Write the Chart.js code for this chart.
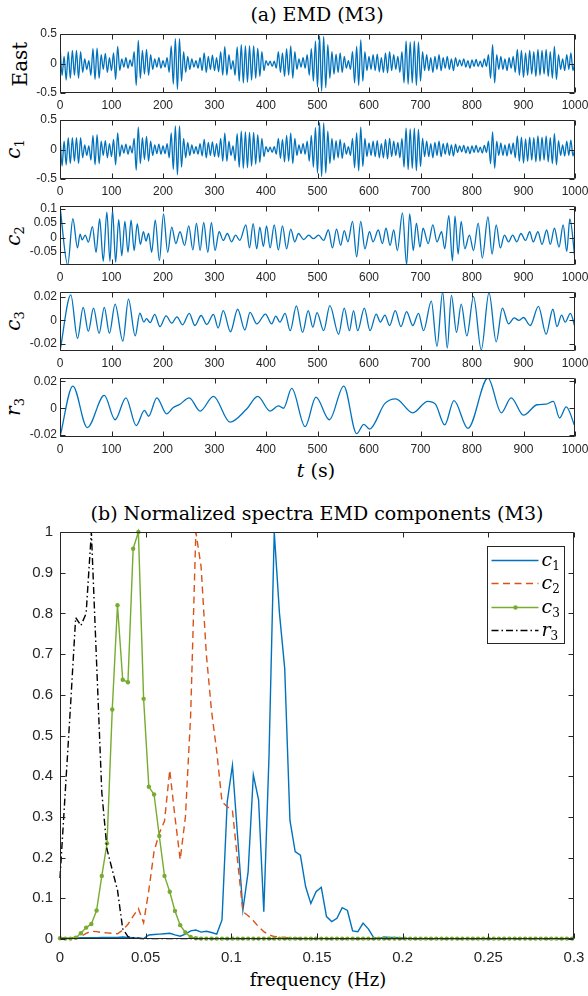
<!DOCTYPE html>
<html>
<head>
<meta charset="utf-8">
<title>EMD (M3)</title>
<script src="https://cdn.jsdelivr.net/npm/chart.js@4.4.1/dist/chart.umd.min.js"></script>
<style>
  html, body { margin: 0; padding: 0; background: #fff; }
  #page { position: relative; width: 588px; height: 996px; overflow: hidden; font-family: "DejaVu Serif", serif; color: #000; }
  canvas { position: absolute; left: 0; }
  .txt { position: absolute; white-space: nowrap; line-height: 1; transform: translate(-50%, -50%); font-size: 19px; }
  .ylab { position: absolute; white-space: nowrap; line-height: 1; transform: translate(-50%, -50%) rotate(-90deg); font-size: 20px; }
  .ylab sub { font-size: 13px; vertical-align: -4px; font-style: normal; }
</style>
</head>
<body>
<div id="page">
  <div class="txt" style="left:317px;top:14px">(a) EMD (M3)</div>
  <div class="ylab" style="left:20px;top:64px">East</div>
  <div class="ylab" style="left:14px;top:149px"><i>c</i><sub>1</sub></div>
  <div class="ylab" style="left:14px;top:236px"><i>c</i><sub>2</sub></div>
  <div class="ylab" style="left:14px;top:321px"><i>c</i><sub>3</sub></div>
  <div class="ylab" style="left:14px;top:407px"><i>r</i><sub>3</sub></div>
  <div class="txt" style="left:316px;top:470px"><i>t</i> (s)</div>
  <div class="txt" style="left:317px;top:513px">(b) Normalized spectra EMD components (M3)</div>
  <div class="txt" style="left:318px;top:980px;font-size:18px">frequency (Hz)</div>

  <canvas id="pEast" width="588" height="93"></canvas>
  <canvas id="pC1" width="588" height="93"></canvas>
  <canvas id="pC2" width="588" height="93"></canvas>
  <canvas id="pC3" width="588" height="93"></canvas>
  <canvas id="pR3" width="588" height="93"></canvas>
  <canvas id="pSpec" width="588" height="450" style="top:522px"></canvas>
</div>

<script>
// ---- (a) time series, East and c1 read every 4 s
const eastV = [
  0.32,-0.2,0.12,-0.28,0.2,-0.25,0.22,-0.2,0.22,-0.25,
  0.2,-0.15,0.08,-0.1,0.05,-0.2,0.25,-0.27,0.26,-0.25,
  0.15,-0.1,0.17,-0.15,0.1,-0.12,0.18,-0.27,0.29,-0.12,
  0.08,-0.06,0.1,-0.08,0.06,-0.05,0.2,-0.37,0.39,-0.25,
  0.22,-0.18,0.24,-0.2,0.15,-0.1,0.08,-0.06,0.1,-0.08,
  0.05,-0.06,0.1,-0.15,0.3,-0.35,0.42,-0.44,0.42,-0.3,
  0.2,-0.15,0.12,-0.1,0.08,-0.06,0.05,-0.08,0.1,-0.12,
  0.18,-0.15,0.12,-0.1,0.14,-0.12,0.1,-0.14,0.2,-0.2,
  0.29,-0.2,0.15,-0.1,0.05,-0.2,0.28,-0.3,0.32,-0.33,
  0.3,-0.32,0.3,-0.28,0.3,-0.25,0.26,-0.22,0.2,-0.12,
  0.05,-0.03,0.04,-0.05,0.04,-0.08,0.2,-0.15,0.18,-0.22,
  0.25,-0.2,0.3,-0.25,0.2,-0.1,0.08,-0.06,0.1,-0.08,
  0.15,-0.2,0.25,-0.3,0.38,-0.4,0.47,-0.47,0.46,-0.41,
  0.32,-0.25,0.2,-0.18,0.16,-0.15,0.18,-0.15,0.12,-0.08,
  0.05,-0.1,0.2,-0.33,0.29,-0.37,0.4,-0.3,0.2,-0.12,
  0.12,-0.1,0.15,-0.12,0.16,-0.14,0.1,-0.15,0.18,-0.16,
  0.2,-0.12,0.15,-0.1,0.12,-0.15,0.2,-0.33,0.38,-0.35,
  0.36,-0.33,0.38,-0.37,0.36,-0.3,0.2,-0.12,0.15,-0.12,
  0.1,-0.15,0.12,-0.1,0.15,-0.12,0.1,-0.08,0.12,-0.1,
  0.08,-0.12,0.1,-0.05,0.06,-0.04,0.08,-0.06,0.05,-0.08,
  0.06,-0.05,0.07,-0.05,0.04,-0.06,0.08,-0.05,0.15,-0.25,
  0.32,-0.33,0.15,-0.1,0.12,-0.1,0.08,-0.12,0.1,-0.08,
  0.12,-0.15,0.24,-0.2,0.22,-0.24,0.18,-0.2,0.22,-0.18,
  0.2,-0.22,0.24,-0.2,0.22,-0.18,0.24,-0.22,0.2,-0.25,
  0.29,-0.27,0.15,-0.1,0.08,-0.12,0.15,-0.1,0.18,-0.12,
  0.05
];
const c1V = [
  0.25,-0.28,0.14,-0.26,0.2,-0.24,0.2,-0.2,0.2,-0.24,
  0.2,-0.14,0.08,-0.1,0.06,-0.18,0.24,-0.26,0.25,-0.24,
  0.14,-0.1,0.15,-0.14,0.1,-0.12,0.17,-0.26,0.28,-0.12,
  0.08,-0.06,0.09,-0.08,0.06,-0.06,0.19,-0.35,0.38,-0.24,
  0.2,-0.17,0.22,-0.2,0.14,-0.1,0.08,-0.07,0.09,-0.08,
  0.06,-0.07,0.1,-0.14,0.28,-0.34,0.4,-0.43,0.4,-0.3,
  0.19,-0.14,0.12,-0.1,0.08,-0.07,0.05,-0.08,0.1,-0.11,
  0.17,-0.14,0.12,-0.1,0.13,-0.12,0.1,-0.13,0.19,-0.2,
  0.28,-0.2,0.14,-0.1,0.06,-0.19,0.27,-0.3,0.31,-0.32,
  0.3,-0.31,0.29,-0.28,0.29,-0.25,0.25,-0.22,0.19,-0.12,
  0.05,-0.04,0.04,-0.05,0.05,-0.08,0.19,-0.15,0.17,-0.21,
  0.24,-0.2,0.28,-0.24,0.19,-0.1,0.08,-0.07,0.1,-0.08,
  0.14,-0.2,0.24,-0.3,0.37,-0.4,0.46,-0.46,0.45,-0.4,
  0.31,-0.24,0.19,-0.18,0.15,-0.14,0.17,-0.15,0.11,-0.08,
  0.05,-0.1,0.19,-0.31,0.28,-0.36,0.38,-0.29,0.19,-0.12,
  0.11,-0.1,0.14,-0.12,0.15,-0.14,0.1,-0.14,0.17,-0.16,
  0.19,-0.12,0.14,-0.1,0.12,-0.14,0.19,-0.3,0.36,-0.34,
  0.35,-0.32,0.36,-0.36,0.34,-0.29,0.19,-0.12,0.14,-0.12,
  0.1,-0.14,0.12,-0.1,0.14,-0.12,0.1,-0.08,0.11,-0.1,
  0.08,-0.11,0.09,-0.05,0.06,-0.04,0.07,-0.06,0.05,-0.07,
  0.06,-0.05,0.07,-0.05,0.04,-0.06,0.07,-0.05,0.14,-0.24,
  0.3,-0.32,0.14,-0.1,0.11,-0.1,0.08,-0.11,0.1,-0.08,
  0.11,-0.14,0.23,-0.2,0.21,-0.23,0.18,-0.2,0.21,-0.18,
  0.2,-0.21,0.23,-0.2,0.21,-0.18,0.23,-0.21,0.2,-0.24,
  0.27,-0.26,0.15,-0.1,0.08,-0.11,0.14,-0.1,0.16,-0.11,
  0.04
];
const tGrid = eastV.map((_, i) => i * 4);

// c2, c3, r3: extremes (time s, value)
const c2T = [0,15,25,34,39,43,49,55,63,70,77,84,91,97,102,108,114,120,126,132,
  138,144,150,156,162,167,172,178,185,193,201,209,217,225,233,242,250,258,265,272,
  279,287,294,301,309,317,325,333,341,349,361,368,375,382,388,395,401,408,416,424,
  432,440,448,456,463,473,483,492,502,512,521,529,537,545,552,559,568,576,584,592,
  601,608,618,626,633,641,648,655,665,673,679,686,692,699,705,715,724,732,741,747,
  755,762,767,773,779,786,795,803,812,820,831,839,847,855,863,871,879,887,895,904,
  912,919,928,936,945,952,960,969,977,984,990,1000];
const c2V = [0.107,-0.095,0.065,-0.036,0.012,-0.008,0.008,-0.016,0.038,-0.051,
  0.064,-0.082,0.088,-0.082,0.095,-0.085,0.062,-0.063,0.056,-0.051,
  0.06,-0.045,0.048,-0.024,0.02,-0.012,0.014,-0.051,0.06,-0.079,
  0.082,-0.051,0.036,-0.021,0.02,-0.027,0.04,-0.043,0.05,-0.045,
  0.052,-0.051,0.052,-0.045,0.02,-0.01,0.014,-0.015,0.008,-0.01,
  0.044,-0.036,0.048,-0.039,0.036,-0.031,0.04,-0.036,0.044,-0.043,
  0.04,-0.039,0.029,-0.015,0.014,-0.007,0.008,-0.004,0.008,-0.01,
  0.026,-0.036,0.029,-0.027,0.024,-0.015,0.056,-0.067,0.056,-0.039,
  0.02,-0.015,0.026,-0.021,0.032,-0.027,0.026,-0.045,0.085,-0.093,
  0.082,-0.045,0.05,-0.033,0.032,-0.021,0.044,-0.015,0.02,-0.039,
  0.076,-0.081,0.074,-0.057,0.056,-0.039,0.008,-0.045,0.05,-0.071,
  0.071,-0.057,0.044,-0.036,0.008,-0.015,0.008,-0.015,0.014,-0.01,
  0.02,-0.015,0.02,-0.024,0.026,-0.024,0.032,-0.033,0.044,-0.048,
  0.064,-0.075];

const c3T = [0,21,34,45,55,65,76,86,96,107,122,133,146,155,163,168,175,184,194,206,
  217,227,238,251,262,274,285,298,307,317,331,345,359,369,382,399,411,419,427,437,
  447,459,471,482,491,499,512,524,541,552,562,570,578,591,602,614,622,631,640,651,
  662,673,685,696,706,721,732,743,752,760,770,779,790,803,818,833,847,859,871,882,
  891,900,913,929,944,957,965,974,981,991,1000];
const c3V = [-0.026,0.0215,-0.0153,0.011,-0.0094,0.0103,-0.011,0.011,-0.011,0.0138,
  -0.0176,0.018,-0.0132,0.006,-0.0015,0.0015,-0.002,0.005,-0.0053,0.0038,
  -0.0024,0.003,-0.0038,0.0059,-0.0044,0.0041,-0.0035,0.005,-0.0065,0.0082,
  -0.0097,0.0094,-0.0082,0.0068,-0.003,0.0053,-0.003,0.0035,-0.0015,0.0059,
  -0.0088,0.0122,-0.0103,0.0082,-0.0059,0.0065,-0.0088,0.0124,-0.0118,0.0103,
  -0.0088,0.0082,-0.0088,0.0103,-0.0088,0.0053,-0.0015,0.0044,-0.0044,0.0082,
  -0.0053,0.0074,-0.0044,0.0059,-0.0088,0.0162,-0.022,0.024,-0.0235,0.0212,
  -0.0103,0.0138,-0.0132,0.02,-0.025,0.0235,-0.0182,0.0103,-0.003,0.002,
  0,0.0024,-0.0044,0.0118,-0.0118,0.0094,-0.0053,0.0044,-0.0015,0.0059,
  -0.0059];

const r3T = [0,25,53,86,107,128,148,164,172,188,207,220,233,251,272,298,330,362,384,408,
  424,434,450,476,497,523,551,576,590,601,631,652,685,714,729,747,765,792,831,857,
  876,900,926,944,958,970,983,1000];
const r3V = [-0.0215,0.0166,-0.0145,0.0096,-0.0086,0.0078,-0.013,-0.0016,-0.006,0.0078,
  -0.0042,0.0005,0.003,0.0078,-0.0021,0.0088,-0.0104,-0.0008,0.0088,-0.0021,
  0.0018,0,0.0148,-0.0138,0.0083,-0.0086,0.0166,-0.019,-0.012,-0.0156,
  0.0036,0.007,-0.0034,0.0052,0.0031,-0.0125,0.0057,-0.0151,0.0226,-0.0034,
  0.0078,-0.0052,0.0026,0.0031,0.0052,-0.0073,0.001,-0.0138];

const ticksPM05 = [-0.5, 0, 0.5];
const ticksC2 = [-0.05, 0, 0.05, 0.1];
const ticksPM002 = [-0.02, 0, 0.02];

// ---- (b) normalized spectra, one value per frequency bin
const specC1 = [
  0.002,0.002,0.002,0.002,0.003,0.003,0.003,0.003,0.004,0.004,
  0.004,0.004,0.005,0.004,0.003,0.002,0.001,0.01,0.011,0.012,
  0.013,0.014,0.01,0.007,0.012,0.02,0.022,0.017,0.019,0.016,
  0.012,0.047,0.337,0.427,0.25,0.071,0.165,0.403,0.342,0.067,
  0.45,1,0.8,0.665,0.292,0.215,0.206,0.129,0.087,0.116,
  0.127,0.055,0.043,0.051,0.077,0.07,0.02,0.018,0.039,0.025,
  0.004,0.001,0.005,0.004,0.004,0.003,0.002,0.001,0.001,0.001,
  0.001,0.001,0.001,0.001,0.001,0.001,0.001,0.001,0.001,0.001,
  0.001,0.001,0.001,0.001,0.001,0.001,0.001,0.001,0.001,0.001,
  0.001,0.001,0.001,0.001,0.001,0.001,0.001,0.001,0.001
];
const specC2 = [
  0.002,0.002,0.003,0.004,0.006,0.014,0.019,0.018,0.016,0.015,
  0.014,0.013,0.022,0.036,0.056,0.075,0.04,0.12,0.215,0.26,
  0.29,0.415,0.3,0.195,0.3,0.55,1,0.915,0.7,0.56,
  0.46,0.337,0.325,0.316,0.19,0.067,0.057,0.045,0.03,0.018,
  0.01,0.006,0.005,0.004,0.003,0.002,0.002,0.001,0.001,0.001,
  0.001,0.001,0.001,0.001,0.001,0.001,0.001,0.001,0.001,0.001,
  0.001,0.001,0.001,0.001,0.001,0.001,0.001,0.001,0.001,0.001,
  0.001,0.001,0.001,0.001,0.001,0.001,0.001,0.001,0.001,0.001,
  0.001,0.001,0.001,0.001,0.001,0.001,0.001,0.001,0.001,0.001,
  0.001,0.001,0.001,0.001,0.001,0.001,0.001,0.001,0.001
];
const specC3 = [
  0.002,0.001,0.001,0.003,0.014,0.028,0.037,0.07,0.155,0.235,
  0.564,0.82,0.637,0.631,0.959,1,0.59,0.374,0.355,0.253,
  0.155,0.116,0.069,0.034,0.016,0.005,0.002,0.001,0.001,0.001,
  0.001,0.001,0.001,0.001,0.001,0.001,0.001,0.001,0.001,0.001,
  0.001,0.001,0.001,0.001,0.001,0.001,0.001,0.001,0.001,0.001,
  0.001,0.001,0.001,0.001,0.001,0.001,0.001,0.001,0.001,0.001,
  0.001,0.001,0.001,0.001,0.001,0.001,0.001,0.001,0.001,0.001,
  0.001,0.001,0.001,0.001,0.001,0.001,0.001,0.001,0.001,0.001,
  0.001,0.001,0.001,0.001,0.001,0.001,0.001,0.001,0.001,0.001,
  0.001,0.001,0.001,0.001,0.001,0.001,0.001,0.001,0.001
];
const specR3 = [
  0.15,0.36,0.57,0.79,0.77,0.8,1,0.68,0.36,0.22,
  0.17,0.12,0.025,0.006,0.003,0.002,0.001,0.001,0.001,0.001,
  0.001,0.001,0.001,0.001,0.001,0.001,0.001,0.001,0.001,0.001,
  0.001,0.001,0.001,0.001,0.001,0.001,0.001,0.001,0.001,0.001,
  0.001,0.001,0.001,0.001,0.001,0.001,0.001,0.001,0.001,0.001,
  0.001,0.001,0.001,0.001,0.001,0.001,0.001,0.001,0.001,0.001,
  0.001,0.001,0.001,0.001,0.001,0.001,0.001,0.001,0.001,0.001,
  0.001,0.001,0.001,0.001,0.001,0.001,0.001,0.001,0.001,0.001,
  0.001,0.001,0.001,0.001,0.001,0.001,0.001,0.001,0.001,0.001,
  0.001,0.001,0.001,0.001,0.001,0.001,0.001,0.001,0.001
];
const freqStep = 0.00305;   // bin width in Hz
const freq = specC1.map((_, i) => +(i * freqStep).toFixed(5));
const specNames = ['c', 'c', 'c', 'r'];
const specSubs = ['1', '2', '3', '3'];
const specYTicks = [0, 0.1, 0.2, 0.3, 0.4, 0.5, 0.6, 0.7, 0.8, 0.9, 1];
const specXTicks = [0, 0.05, 0.1, 0.15, 0.2, 0.25, 0.3];

const AX = '#262626';
const SANS = '"Liberation Sans", Arial, sans-serif';
const BLUE = '#0072BD', ORANGE = '#D95319', GREEN = '#77AC30';

const pts = (xs, ys) => ys.map((y, i) => ({ x: xs[i], y: y }));
const noGrid = { display: false, drawTicks: false };

// MATLAB style box with inward ticks on all four sides
const boxTicks = {
  id: 'boxTicks',
  afterDatasetsDraw(chart) {
    const { ctx, chartArea: a, scales: { x, y } } = chart;
    const L = Math.round(a.left) + 0.5, R = Math.round(a.right) - 0.5;
    const T = Math.round(a.top) + 0.5, B = Math.round(a.bottom) - 0.5;
    const len = 5;
    ctx.save();
    ctx.strokeStyle = AX;
    ctx.lineWidth = 1;
    ctx.beginPath();
    ctx.rect(L, T, R - L, B - T);
    x.ticks.forEach(t => {
      const px = Math.round(x.getPixelForValue(t.value)) + 0.5;
      ctx.moveTo(px, B); ctx.lineTo(px, B - len);
      ctx.moveTo(px, T); ctx.lineTo(px, T + len);
    });
    y.ticks.forEach(t => {
      const py = Math.round(y.getPixelForValue(t.value)) + 0.5;
      ctx.moveTo(L, py); ctx.lineTo(L + len, py);
      ctx.moveTo(R, py); ctx.lineTo(R - len, py);
    });
    ctx.stroke();
    ctx.restore();
  }
};

function timePanel(id, top, data, yMin, yMax, yTicks) {
  const cv = document.getElementById(id);
  cv.style.top = (top - 8) + 'px';
  return new Chart(cv, {
    type: 'line',
    data: {
      datasets: [{
        data: data,
        borderColor: BLUE,
        borderWidth: 1.3,
        pointRadius: 0,
        cubicInterpolationMode: 'monotone',
        fill: false
      }]
    },
    options: {
      responsive: false,
      animation: false,
      events: [],
      layout: { padding: { top: 8, right: 13, left: 0, bottom: 0 } },
      plugins: { legend: { display: false }, tooltip: { enabled: false } },
      scales: {
        x: {
          type: 'linear', min: 0, max: 1000,
          grid: noGrid, border: { display: false },
          ticks: { stepSize: 100, padding: 5, color: AX, maxRotation: 0, autoSkip: false,
                   font: { family: SANS, size: 12 }, callback: v => String(v) },
          afterFit: s => { s.height = 26; s.paddingLeft = 0; s.paddingRight = 0; }
        },
        y: {
          min: yMin, max: yMax,
          grid: noGrid, border: { display: false },
          afterBuildTicks: s => { s.ticks = yTicks.map(v => ({ value: v })); },
          ticks: { padding: 3, color: AX, autoSkip: false, font: { family: SANS, size: 12 },
                   callback: v => String(v) },
          afterFit: s => { s.width = 60; s.paddingTop = 0; s.paddingBottom = 0; }
        }
      }
    },
    plugins: [boxTicks]
  });
}

timePanel('pEast', 34, pts(tGrid, eastV), -0.5, 0.5, ticksPM05);
timePanel('pC1', 120, pts(tGrid, c1V), -0.5, 0.5, ticksPM05);
timePanel('pC2', 206, pts(c2T, c2V), -0.095, 0.109, ticksC2);
timePanel('pC3', 292, pts(c3T, c3V), -0.026, 0.024, ticksPM002);
timePanel('pR3', 378, pts(r3T, r3V), -0.0215, 0.0226, ticksPM002);

// legend drawn the MATLAB way: box, line samples, italic names with subscripts
const specLegend = {
  id: 'specLegend',
  afterDraw(chart) {
    const { ctx, chartArea: a } = chart;
    const bx = Math.round(a.right - 87) + 0.5, by = Math.round(a.top + 14) + 0.5;
    const bw = 77, bh = 97;
    ctx.save();
    ctx.fillStyle = '#fff';
    ctx.fillRect(bx, by, bw, bh);
    ctx.strokeStyle = AX;
    ctx.lineWidth = 1;
    ctx.strokeRect(bx, by, bw, bh);
    chart.data.datasets.forEach((ds, i) => {
      const y = Math.round(by + 13.5 + i * 23.3) + 0.5;
      ctx.strokeStyle = ds.borderColor;
      ctx.lineWidth = ds.borderWidth;
      ctx.setLineDash(ds.borderDash || []);
      ctx.beginPath();
      ctx.moveTo(bx + 4, y);
      ctx.lineTo(bx + 51, y);
      ctx.stroke();
      ctx.setLineDash([]);
      if (ds.pointRadius) {
        ctx.fillStyle = ds.borderColor;
        ctx.beginPath();
        ctx.arc(bx + 28, y, ds.pointRadius, 0, 2 * Math.PI);
        ctx.fill();
      }
      ctx.fillStyle = '#000';
      ctx.textBaseline = 'alphabetic';
      ctx.font = 'italic 19px "DejaVu Serif"';
      ctx.fillText(specNames[i], bx + 54, y + 5);
      const w = ctx.measureText(specNames[i]).width;
      ctx.font = '12px "DejaVu Serif"';
      ctx.fillText(specSubs[i], bx + 54 + w, y + 9);
    });
    ctx.restore();
  }
};

new Chart(document.getElementById('pSpec'), {
  type: 'line',
  data: {
    datasets: [
      { label: 'c1', data: pts(freq, specC1), borderColor: BLUE, borderWidth: 1.4,
        pointRadius: 0, order: 4, clip: 6 },
      { label: 'c2', data: pts(freq, specC2), borderColor: ORANGE, borderWidth: 1.4,
        borderDash: [7, 4.5], pointRadius: 0, order: 3, clip: 6 },
      { label: 'c3', data: pts(freq, specC3), borderColor: GREEN, borderWidth: 1.4,
        pointRadius: 2.2, pointBackgroundColor: GREEN, pointBorderWidth: 0, order: 2, clip: 6 },
      { label: 'r3', data: pts(freq, specR3), borderColor: '#000', borderWidth: 1.4,
        borderDash: [7, 3, 1.5, 3], pointRadius: 0, order: 1, clip: 6 }
    ]
  },
  options: {
    responsive: false,
    animation: false,
    events: [],
    layout: { padding: { top: 10, right: 14, left: 0, bottom: 0 } },
    plugins: { legend: { display: false }, tooltip: { enabled: false } },
    scales: {
      x: {
        type: 'linear', min: 0, max: 0.3,
        grid: noGrid, border: { display: false },
        afterBuildTicks: s => { s.ticks = specXTicks.map(v => ({ value: v })); },
        ticks: { padding: 10, color: AX, maxRotation: 0, autoSkip: false,
                 font: { family: SANS, size: 15 }, callback: v => String(v) },
        afterFit: s => { s.height = 33; s.paddingLeft = 0; s.paddingRight = 0; }
      },
      y: {
        min: 0, max: 1,
        grid: noGrid, border: { display: false },
        afterBuildTicks: s => { s.ticks = specYTicks.map(v => ({ value: v })); },
        ticks: { padding: 7, color: AX, autoSkip: false, font: { family: SANS, size: 15 },
                 callback: v => String(v) },
        afterFit: s => { s.width = 60; s.paddingTop = 0; s.paddingBottom = 0; }
      }
    }
  },
  plugins: [boxTicks, specLegend]
});
</script>
</body>
</html>
